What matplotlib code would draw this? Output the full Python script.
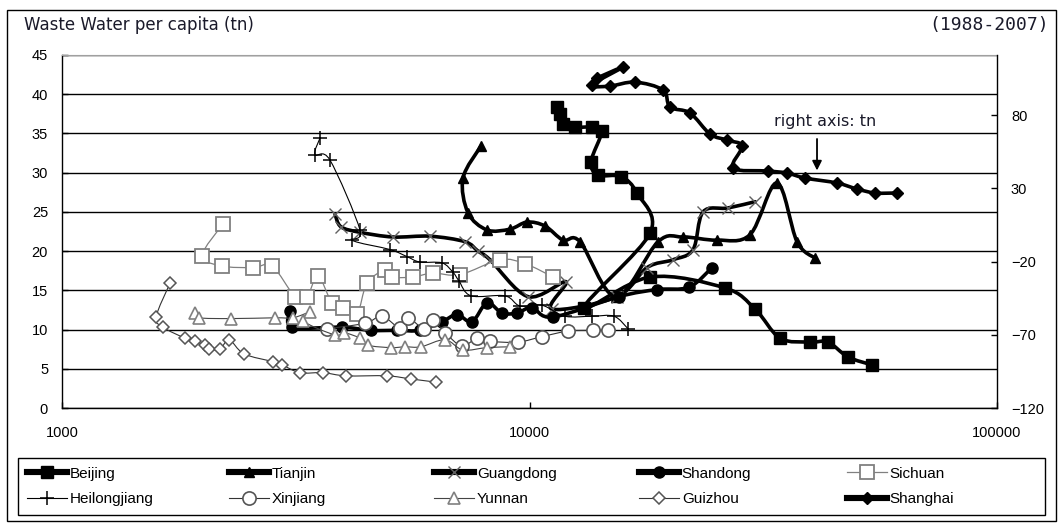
import numpy as np
import matplotlib
matplotlib.use('Agg')
import matplotlib.pyplot as plt
from matplotlib.path import Path
from matplotlib.patches import PathPatch, Rectangle
from matplotlib.lines import Line2D
from matplotlib.ticker import FixedLocator, NullLocator, FuncFormatter

# ---------------- data (GDP per capita, waste water per capita) ----------------
beijing_x = [11450, 11620, 11790, 12510, 13610, 14290, 13540, 14015, 15700, 16980,
             18110, 13080, 18110, 26200, 30380, 34350, 39820, 43510, 48010, 54040]
beijing_y = [38.4, 37.5, 36.2, 35.8, 35.8, 35.3, 31.4, 29.7, 29.5, 27.4,
             22.3, 12.8, 16.7, 15.3, 12.6, 8.9, 8.4, 8.4, 6.5, 5.5]

tianjin_x = [7874, 7206, 7385, 8110, 9083, 9877, 10794, 11794, 12825, 15314,
             18835, 21304, 25190, 29634, 33837, 37347, 40813]
tianjin_y = [33.4, 29.3, 24.9, 22.7, 22.8, 23.7, 23.2, 21.4, 21.2, 14.2,
             21.2, 21.8, 21.4, 22.1, 28.7, 21.2, 19.1]

guangdong_x = [3837, 3951, 4339, 5105, 6125, 7278, 7759, 8231, 9926, 11970,
               11171, 15390, 17842, 20280, 22380, 23510, 26590, 30377]
guangdong_y = [24.7, 23.1, 22.4, 21.8, 21.9, 21.2, 20.0, 18.9, 14.2, 16.1,
               12.6, 14.2, 17.9, 18.9, 20.2, 25.0, 25.5, 26.3]

shandong_x = [3074, 3104, 3971, 4580, 5207, 5831, 6498, 6996, 7533, 8110,
              8733, 9402, 10123, 11227, 15543, 18743, 21944, 24575]
shandong_y = [12.4, 10.3, 10.3, 9.9, 9.9, 9.9, 11.0, 11.9, 11.0, 13.4,
              12.1, 12.1, 12.8, 11.6, 14.2, 15.1, 15.4, 17.9]

sichuan_x = [2211, 1993, 2200, 2562, 2814, 3151, 3342, 3528, 3780, 3991,
             4275, 4491, 4908, 5080, 5633, 6216, 7100, 8647, 9781, 11227]
sichuan_y = [23.5, 19.4, 18.1, 17.9, 18.1, 14.2, 14.2, 16.8, 13.4, 12.8,
             12.0, 15.9, 17.6, 16.7, 16.7, 17.2, 17.0, 18.9, 18.4, 16.7]

heilongjiang_x = [3563, 3477, 3743, 4339, 4171, 5030, 5469, 5831, 6498, 6860,
                  7066, 7496, 8863, 9542, 10635, 11912, 13607, 15164, 16247]
heilongjiang_y = [34.4, 32.3, 31.6, 22.7, 21.4, 20.2, 19.3, 18.6, 18.5, 17.3,
                  16.2, 14.3, 14.3, 13.0, 13.1, 11.7, 11.7, 11.7, 10.1]

xinjiang_x = [3688, 4448, 4835, 5284, 5496, 5947, 6216, 6595, 7170, 7721,
              8231, 9448, 10635, 12088, 13674, 14722]
xinjiang_y = [10.1, 10.8, 11.7, 10.2, 11.5, 10.1, 11.2, 9.6, 7.9, 8.9,
              8.5, 8.4, 9.1, 9.8, 9.9, 9.9]

yunnan_x = [1925, 1963, 2299, 2856, 3120, 3392, 3277, 3837, 4010, 4339,
            4513, 5055, 5416, 5860, 6595, 7206, 8110, 9083]
yunnan_y = [12.1, 11.5, 11.4, 11.5, 11.5, 12.2, 11.1, 9.3, 9.6, 8.9,
            8.0, 7.7, 7.8, 7.8, 8.7, 7.4, 7.7, 7.8]

guizhou_x = [1702, 1589, 1644, 1833, 1925, 2022, 2063, 2178, 2277, 2451,
             2828, 2956, 3229, 3616, 4050, 4956, 5577, 6309]
guizhou_y = [15.9, 11.6, 10.3, 8.9, 8.5, 8.0, 7.5, 7.5, 8.7, 6.9,
             5.9, 5.5, 4.5, 4.5, 4.1, 4.1, 3.7, 3.3]

# Shanghai on the right axis
shanghai_x = [13946, 15852, 13607, 14868, 16818, 19305, 19982, 22051, 24335, 26460,
              28489, 27256, 32368, 35551, 38850, 45480, 50191, 54846, 61111]
shanghai_y = [105.3, 112.8, 100.5, 99.8, 102.5, 97.1, 85.5, 81.4, 67.0, 62.9,
              58.8, 43.8, 41.8, 40.4, 37.0, 33.6, 29.5, 26.8, 26.8]

x_ticks = [1000, 10000, 100000]
left_ticks = [0, 5, 10, 15, 20, 25, 30, 35, 40, 45]
right_ticks = [-120, -70, -20, 30, 80]

legend_rows = [['Beijing', 'Tianjin', 'Guangdong', 'Shandong', 'Sichuan'],
               ['Heilongjiang', 'Xinjiang', 'Yunnan', 'Guizhou', 'Shanghai']]

# ---------------- helpers ----------------
def smooth_path(xs, ys):
    """Excel-like smoothed line: Catmull-Rom Bezier in (log x, y) space."""
    P = np.column_stack([np.log10(np.asarray(xs, float)), np.asarray(ys, float)])
    n = len(P)
    verts = [P[0]]
    codes = [Path.MOVETO]
    for i in range(n - 1):
        p0 = P[i - 1] if i > 0 else P[i]
        p1 = P[i]
        p2 = P[i + 1]
        p3 = P[i + 2] if i + 2 < n else P[i + 1]
        verts += [p1 + (p2 - p0) / 6.0, p2 - (p3 - p1) / 6.0, p2]
        codes += [Path.CURVE4] * 3
    verts = np.array(verts)
    verts[:, 0] = 10 ** verts[:, 0]
    return Path(verts, codes)

W, H = 1063, 528
fig = plt.figure(figsize=(W / 100, H / 100), dpi=100)
fig.patch.set_facecolor('white')
ax = fig.add_axes([62 / W, 1 - 408 / H, (997 - 62) / W, (408 - 55) / H])
ax.set_xscale('log')
ax.set_ylim(0, 45)

tick_font = ['Liberation Sans', 'DejaVu Sans']
leg_font = ['Liberation Sans', 'DejaVu Sans']
title_font = ['DejaVu Sans']

# right axis for Shanghai (created before x formatting so shared x keeps it)
ax2 = ax.twinx()
ax.set_xlim(1000, 100000)
ax.xaxis.set_major_locator(FixedLocator(x_ticks))
ax.xaxis.set_minor_locator(NullLocator())
ax.xaxis.set_major_formatter(FuncFormatter(lambda v, p: f"{int(round(v))}"))
ax.yaxis.set_major_locator(FixedLocator(left_ticks))
ax.tick_params(axis='both', direction='in', length=4, width=1, colors='black')
ax.tick_params(axis='y', pad=10, labelsize=10.5)
ax.tick_params(axis='x', pad=13, labelsize=10.5)
for lab in ax.get_xticklabels() + ax.get_yticklabels():
    lab.set_family(tick_font)
ax.yaxis.grid(True, color='black', lw=1.0)
ax.set_axisbelow(True)
for s in ['left', 'bottom']:
    ax.spines[s].set_color('black')
    ax.spines[s].set_linewidth(1.0)
ax.spines['top'].set_color('#a0a0a0')
ax.spines['right'].set_visible(False)

series = [
    ('Beijing', beijing_x, beijing_y, dict(color='black', lw=2.6),
     dict(marker='s', ms=9, mfc='black', mec='black', mew=1)),
    ('Tianjin', tianjin_x, tianjin_y, dict(color='black', lw=2.6),
     dict(marker='^', ms=7.5, mfc='black', mec='black', mew=1)),
    ('Guangdong', guangdong_x, guangdong_y, dict(color='black', lw=2.6),
     dict(marker='x', ms=8, mfc='none', mec='#606060', mew=1.0)),
    ('Shandong', shandong_x, shandong_y, dict(color='black', lw=2.6),
     dict(marker='o', ms=8, mfc='black', mec='black', mew=1)),
    ('Sichuan', sichuan_x, sichuan_y, dict(color='#808080', lw=0.9),
     dict(marker='s', ms=9.5, mfc='white', mec='#808080', mew=1.3)),
    ('Heilongjiang', heilongjiang_x, heilongjiang_y, dict(color='black', lw=0.8),
     dict(marker='+', ms=10, mfc='none', mec='black', mew=1.1)),
    ('Xinjiang', xinjiang_x, xinjiang_y, dict(color='#333333', lw=0.8),
     dict(marker='o', ms=9.5, mfc='white', mec='#555555', mew=1.2)),
    ('Yunnan', yunnan_x, yunnan_y, dict(color='#444444', lw=0.8),
     dict(marker='^', ms=8.5, mfc='white', mec='#808080', mew=1.2)),
    ('Guizhou', guizhou_x, guizhou_y, dict(color='#333333', lw=0.8),
     dict(marker='D', ms=6.5, mfc='white', mec='#555555', mew=1.1)),
]

handles = {}
z = 3
for name, xs, ys, lst, mst in series:
    patch = PathPatch(smooth_path(xs, ys), facecolor='none', edgecolor=lst['color'],
                      lw=lst['lw'], capstyle='round', joinstyle='round', zorder=z)
    ax.add_patch(patch)
    ax.plot(xs, ys, linestyle='none', zorder=z + 0.5, **mst)
    handles[name] = Line2D([], [], color=lst['color'],
                           lw=lst['lw'] * (1.7 if lst['lw'] > 2 else 1), **mst)
    z += 1

ax2.set_ylim(-120, 121)
ax2.yaxis.set_major_locator(FixedLocator(right_ticks))
ax2.tick_params(axis='y', direction='in', length=4, width=1, pad=10, labelsize=10.5)
for lab in ax2.get_yticklabels():
    lab.set_family(tick_font)
for s in ['left', 'top', 'bottom']:
    ax2.spines[s].set_visible(False)
ax2.spines['right'].set_color('black')
ax2.spines['right'].set_linewidth(1.0)
sh_mark = dict(marker='D', ms=6.5, mfc='black', mec='black', mew=1)
ax2.add_patch(PathPatch(smooth_path(shanghai_x, shanghai_y), facecolor='none',
                        edgecolor='black', lw=2.6, capstyle='round', joinstyle='round', zorder=3))
ax2.plot(shanghai_x, shanghai_y, linestyle='none', zorder=4, **sh_mark)
handles['Shanghai'] = Line2D([], [], color='black', lw=2.6 * 1.7, **sh_mark)

# annotation
ax2.annotate('', xy=(0.8075, 0.665), xytext=(0.8075, 0.77), xycoords='axes fraction',
             arrowprops=dict(arrowstyle='-|>', color='black', lw=1.3, mutation_scale=14))
ax2.text(0.816, 0.813, 'right axis: tn', transform=ax2.transAxes, ha='center', va='center',
         fontsize=11.5, family=title_font, color='#1a1a2a')

# titles
fig.text(24 / W, 1 - 25 / H, 'Waste Water per capita (tn)', ha='left', va='center',
         fontsize=12, family=title_font, color='#1a1a2a')
fig.text(1049 / W, 1 - 25 / H, '(1988-2007)', ha='right', va='center',
         fontsize=13, family=['DejaVu Sans Mono'], color='#1a1a2a')

# outer frame
fig.add_artist(Rectangle((7 / W, 1 - 521 / H), (1056 - 7) / W, (521 - 10) / H,
                         transform=fig.transFigure, fill=False, ec='black', lw=1.0))

# legend frame + one two-row legend per column
fig.add_artist(Rectangle((18 / W, 1 - 515 / H), (1045 - 18) / W, (515 - 458) / H,
                         transform=fig.transFigure, fill=False, ec='black', lw=1.0))
col_x = [27, 229, 434, 639, 847]
for i, cx in enumerate(col_x):
    names = [legend_rows[0][i], legend_rows[1][i]]
    fig.legend([handles[n] for n in names], names, loc='center left',
               bbox_to_anchor=(cx / W, 1 - 486.5 / H), frameon=False,
               handlelength=2.6, handletextpad=0.2, borderaxespad=0, borderpad=0,
               labelspacing=0.75, prop=dict(family=leg_font, size=11))

fig.savefig('out.png', dpi=100, facecolor='white')
